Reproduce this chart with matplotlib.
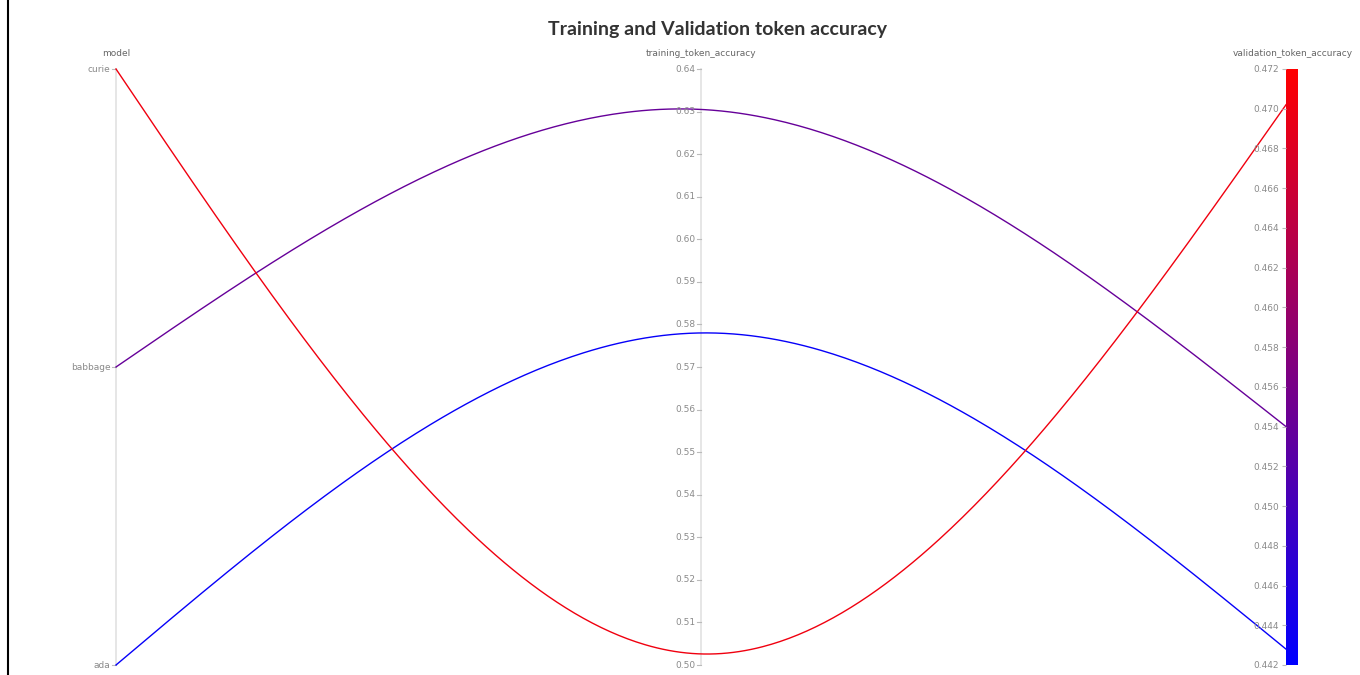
import numpy as np
import matplotlib
matplotlib.use('Agg')
from matplotlib import pyplot as plt
from matplotlib.colors import LinearSegmentedColormap, Normalize
from matplotlib.cm import ScalarMappable
from matplotlib.lines import Line2D

# data
models = ['ada', 'babbage', 'curie']
training_acc = [0.5780, 0.6305, 0.5026]
validation_acc = [0.4428, 0.4540, 0.4702]

model_ticks = ['ada', 'babbage', 'curie']
train_ticks = [round(0.50 + 0.01 * i, 2) for i in range(15)]
val_ticks = [round(0.442 + 0.002 * i, 3) for i in range(16)]

train_range = (0.50, 0.64)
val_range = (0.442, 0.472)

TICK_COLOR = '#8a8a8a'
AXIS_COLOR = '#e2e2e2'


def natural_spline3(ys, n=200):
    # natural cubic spline through 3 equally spaced points at x = 0, 1, 2
    y0, y1, y2 = ys
    m1 = 1.5 * (y0 - 2 * y1 + y2)
    xs, out = [], []
    for seg, (ya, yb, ma, mb) in enumerate([(y0, y1, 0.0, m1), (y1, y2, m1, 0.0)]):
        t = np.linspace(0, 1, n)
        a, b = 1 - t, t
        y = a * ya + b * yb + ((a ** 3 - a) * ma + (b ** 3 - b) * mb) / 6.0
        xs.append(seg + t)
        out.append(y)
    return np.concatenate(xs), np.concatenate(out)


fig = plt.figure(figsize=(13.6, 6.75), dpi=100)
W, H = 1360, 675
x_left, x_right = 116, 1286
y_top, y_bot = 69, 665

ax = fig.add_axes([x_left / W, (H - y_bot) / H, (x_right - x_left) / W, (y_bot - y_top) / H])
ax.set_xlim(0, 2)
ax.set_ylim(0, 1)
ax.axis('off')

cmap = LinearSegmentedColormap.from_list('bluered', ['#0000ff', '#ff0000'])
norm = Normalize(vmin=val_range[0], vmax=val_range[1])

# vertical axes
for xa in [0, 1]:
    ax.plot([xa, xa], [0, 1], color=AXIS_COLOR, lw=1.2, zorder=1, clip_on=False)

# poly lines
for m, tr, va in zip(models, training_acc, validation_acc):
    y_model = model_ticks.index(m) / (len(model_ticks) - 1)
    y_tr = (tr - train_range[0]) / (train_range[1] - train_range[0])
    y_va = (va - val_range[0]) / (val_range[1] - val_range[0])
    xs, ys = natural_spline3([y_model, y_tr, y_va])
    ax.plot(xs, ys, color=cmap(norm(va)), lw=1.0, zorder=3, clip_on=False)

# model axis ticks
for i, lab in enumerate(model_ticks):
    yy = i / (len(model_ticks) - 1)
    ax.plot([-0.006, 0], [yy, yy], color='#bbbbbb', lw=0.8, clip_on=False)
    ax.text(-0.009, yy, lab, ha='right', va='center', fontsize=6.5, color=TICK_COLOR)

# training axis ticks
for v in train_ticks:
    yy = (v - train_range[0]) / (train_range[1] - train_range[0])
    ax.plot([1 - 0.006, 1], [yy, yy], color='#bbbbbb', lw=0.8, clip_on=False)
    ax.text(1 - 0.009, yy, f'{v:.2f}', ha='right', va='center', fontsize=6.5, color=TICK_COLOR)

# axis titles
ax.text(0, 1.018, 'model', ha='center', va='bottom', fontsize=6.5, color='#666666')
ax.text(1, 1.018, 'training_token_accuracy', ha='center', va='bottom', fontsize=6.5, color='#666666')
ax.text(2.012, 1.018, 'validation_token_accuracy', ha='center', va='bottom', fontsize=6.5, color='#666666')

# colour bar as the validation axis
cax = fig.add_axes([x_right / W, (H - y_bot) / H, 12 / W, (y_bot - y_top) / H])
sm = ScalarMappable(norm=norm, cmap=cmap)
cb = fig.colorbar(sm, cax=cax, ticks=val_ticks)
cb.outline.set_visible(False)
cax.yaxis.set_ticks_position('left')
cax.yaxis.set_label_position('left')
cax.set_yticklabels([f'{v:.3f}' for v in val_ticks])
cax.tick_params(axis='y', labelsize=6.5, labelcolor=TICK_COLOR, color='#bbbbbb', length=3, width=0.8, pad=2)

fig.text(717 / W, 1 - 30 / H, 'Training and Validation token accuracy', ha='center', va='center',
         fontsize=14, fontweight='bold', color='#333333', family=['Lato', 'DejaVu Sans'])

# frame edge on the left
fig.add_artist(Line2D([8 / W, 8 / W], [0, 1], color='black', lw=1.5))

fig.savefig('out.png', dpi=100, facecolor='white')
